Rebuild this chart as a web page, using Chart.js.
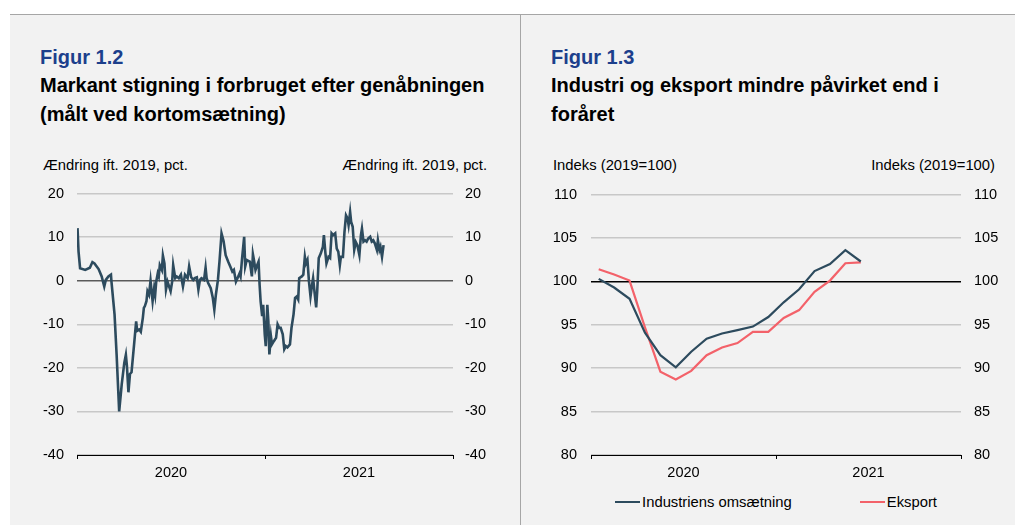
<!DOCTYPE html>
<html><head><meta charset="utf-8">
<script src="https://cdn.jsdelivr.net/npm/chart.js@4.4.1/dist/chart.umd.min.js"></script>
<style>
html,body{margin:0;padding:0;background:#fff;width:1015px;height:525px;overflow:hidden;font-family:"Liberation Sans",Arial,sans-serif;}
#panel{position:absolute;left:10px;top:14px;width:1005px;height:511px;background:#f2f2f2;border-top:1px solid #a6a6a6;}
#divider{position:absolute;left:520px;top:15px;width:1px;height:510px;background:#a6a6a6;}
.fig{position:absolute;font-weight:bold;font-size:20px;line-height:29px;color:#1c3f8c;white-space:nowrap}
.title{position:absolute;font-weight:bold;font-size:20px;line-height:29px;color:#000;white-space:nowrap}
.unit{position:absolute;font-size:14.8px;line-height:17px;color:#000;white-space:nowrap}
canvas{position:absolute}
#legend{position:absolute;left:591px;top:493px;width:370px;height:18px;display:flex;justify-content:center;gap:68px;font-size:14.8px;line-height:18px;color:#000}
.li{display:flex;align-items:center;white-space:nowrap}
.ls{width:25px;height:2.5px;margin-right:2px}
</style>
</head>
<body>
<div id="panel"></div>
<div id="divider"></div>
<div class="fig" style="left:40px;top:43px">Figur 1.2</div>
<div class="title" style="left:40px;top:71px">Markant stigning i forbruget efter genåbningen<br>(målt ved kortomsætning)</div>
<div class="fig" style="left:551px;top:43px">Figur 1.3</div>
<div class="title" style="left:551px;top:71px">Industri og eksport mindre påvirket end i<br>foråret</div>
<div class="unit" style="left:43px;top:157px">Ændring ift. 2019, pct.</div>
<div class="unit" style="right:528px;top:157px">Ændring ift. 2019, pct.</div>
<div class="unit" style="left:553px;top:157px">Indeks (2019=100)</div>
<div class="unit" style="right:20px;top:157px">Indeks (2019=100)</div>
<canvas id="c1" width="490" height="313" style="left:20px;top:172px"></canvas>
<canvas id="c2" width="480" height="313" style="left:530px;top:172px"></canvas>
<div id="legend"></div>
<script>
// ---- Figur 1.2 data: day number from 1 Jan 2020, change vs 2019 (pct.)
const cardDays = [1,3,6,16,25,30,34,42,48,53,56,61,66,67,73,77,82,87,92,95,97,100,103,106,111,115,117,121,124,128,130,132,135,137,140,143,145,147,150,152,154,157,159,161,165,167,170,173,176,179,182,185,187,191,194,198,202,206,210,215,218,222,226,229,233,236,239,242,247,250,252,255,260,264,267,270,274,277,281,285,289,294,299,302,305,309,312,316,318,321,325,327,330,333,336,340,342,344,347,351,353,355,357,360,362,365,367,370,372,374,377,379,383,387,390,393,396,400,403,406,409,414,417,421,424,427,430,432,437,440,443,445,448,451,454,457,459,462,465,467,470,474,478,480,483,485,489,492,495,498,502,505,508,511,513,517,520,523,526,528,531,533,536,539,542,545,549,552,554,557,560,563,566,570,573,576,579,583,585,588,590,593,596];
const cardChange = [12.1,6.7,2.9,2.5,3.0,4.3,4.0,2.7,1.0,-1.3,0.2,1.0,1.4,-0.2,-7.7,-16.9,-30,-23.7,-18.8,-17,-19.5,-25.6,-21.4,-21,-14.6,-9.3,-11.5,-11.2,-11.7,-8.5,-6.2,-5.8,-4.7,-2.4,-3.2,0,-2.4,-4.7,-1.7,-3.2,-0.2,1.7,1.0,3.6,2.5,5.8,4.0,-2.0,-0.2,-1.3,-2.4,-0.2,3.6,0.6,1.0,0.6,1.4,-1.3,1.4,0.6,3.3,0.8,0.2,0.6,0.8,-2.0,0.2,0.6,0.2,3.0,0.6,-0.5,-1.7,-3.9,-6.6,-3.2,0.2,4.4,10.9,9.1,5.9,4.4,3.0,2.1,2.5,-0.2,0.6,1.7,1.0,5.2,10.1,3.3,4.8,4.6,4.4,1.0,6.1,4.8,2.5,3.8,4.4,-0.9,-4.7,-8.1,-5.5,-12.3,-15.0,-5.5,-9.3,-16.9,-12.7,-14.6,-13.8,-13.1,-10.0,-10.8,-10.8,-12.3,-15.7,-15,-15.3,-14.6,-10.8,-7.7,-3.9,-3.6,-4.3,0.6,1.0,1.4,5.5,4.0,4.8,-0.2,-3.6,-0.9,0.6,-2.8,-6.1,-2.4,5.2,6.3,7.8,10.5,6.3,4.0,5.5,5.2,10.9,10.5,10.9,7.4,6.7,3.6,5.5,5.5,11.2,15.0,14.3,12.8,15.8,13.5,12.4,7.1,8.9,8.2,5.9,10.5,12.0,9.0,9.3,9.0,9.7,10.1,9.0,9.3,8.6,7.1,9.3,7.1,7.8,5.5,8.2];
const yearLabels = ['2020','2021'];
const daysInPeriod = 731;

// ---- Figur 1.3 data: monthly index (2019=100)
const monthLabels = ['jan 20','feb 20','mar 20','apr 20','maj 20','jun 20','jul 20','aug 20','sep 20','okt 20','nov 20','dec 20',
  'jan 21','feb 21','mar 21','apr 21','maj 21','jun 21','jul 21','aug 21','sep 21','okt 21','nov 21','dec 21'];
const industri = [100.3,99.3,98.0,94.1,91.5,90.1,91.9,93.4,94.0,94.4,94.8,95.9,97.6,99.1,101.2,102.0,103.6,102.3];
const eksport  = [101.4,100.8,100.1,94.7,89.6,88.7,89.7,91.5,92.4,92.9,94.2,94.2,95.8,96.7,98.8,100.1,102.1,102.2];
const seriesNames = ['Industriens omsætning','Eksport'];

Chart.defaults.font.family = '"Liberation Sans", Arial, sans-serif';
Chart.defaults.font.size = 14.5;
Chart.defaults.color = '#000';

const DARK = '#2d4b5e', RED = '#f3626a', GRID = '#c8c8c8';

function yearAxis() {
  return {type:'category', labels: yearLabels, position:'bottom', offset:true,
    grid:{offset:true, drawOnChartArea:false, drawTicks:true, tickLength:4, color:'#000', lineWidth:1},
    border:{display:true, color:'#000', width:1},
    ticks:{padding:5, maxRotation:0, autoSkip:false},
    afterFit: s => { s.height = 30; }};
}
function yAxis(pos, min, max, zero, zeroColor, width, pad) {
  return {position: pos, min, max,
    ticks:{stepSize:5 * (max - min > 40 ? 2 : 1), padding: pad},
    grid: pos === 'left'
      ? {drawTicks:false, lineWidth:1.5, color: c => (c.tick && c.tick.value === zero) ? zeroColor : GRID}
      : {display:false, drawTicks:false},
    border:{display:false},
    afterFit: s => { s.width = width; }};
}

new Chart(document.getElementById('c1'), {
  type:'line',
  data:{datasets:[{label:'Kortomsætning', data: cardDays.map((d,i)=>({x:d, y:cardChange[i]})),
    borderColor:DARK, borderWidth:2.6, pointRadius:0, tension:0, xAxisID:'xd', yAxisID:'y'}]},
  options:{responsive:false, animation:false, events:[],
    layout:{padding:{top:20, bottom:0, left:0, right:0}},
    plugins:{legend:{display:false}, tooltip:{enabled:false}},
    scales:{
      x: yearAxis(),
      xd: {type:'linear', display:false, min:0, max:daysInPeriod},
      y: yAxis('left', -40, 20, 0, '#5a5a5a', 57, 13),
      y2: yAxis('right', -40, 20, 0, '#5a5a5a', 57, 12)
    }}
});

const c2 = new Chart(document.getElementById('c2'), {
  type:'line',
  data:{datasets:[
    {label:seriesNames[0], data:industri, borderColor:DARK, borderWidth:2.2, pointRadius:0, tension:0, xAxisID:'xm', yAxisID:'y'},
    {label:seriesNames[1], data:eksport, borderColor:RED, borderWidth:2.2, pointRadius:0, tension:0, xAxisID:'xm', yAxisID:'y'}
  ]},
  options:{responsive:false, animation:false, events:[],
    layout:{padding:{top:20, bottom:0, left:0, right:0}},
    plugins:{legend:{display:false}, tooltip:{enabled:false}},
    scales:{
      x: yearAxis(),
      xm: {type:'category', labels: monthLabels, display:false, offset:true},
      y: yAxis('left', 80, 110, 100, '#000', 61, 14),
      y2: yAxis('right', 80, 110, 100, '#000', 49, 13)
    }}
});

// HTML legend built from the chart's own legend items
const items = Chart.defaults.plugins.legend.labels.generateLabels(c2);
const lg = document.getElementById('legend');
items.forEach(it => {
  const d = document.createElement('div'); d.className = 'li';
  const s = document.createElement('span'); s.className = 'ls'; s.style.background = it.strokeStyle;
  const t = document.createElement('span'); t.textContent = it.text;
  d.appendChild(s); d.appendChild(t); lg.appendChild(d);
});
</script>
</body></html>
